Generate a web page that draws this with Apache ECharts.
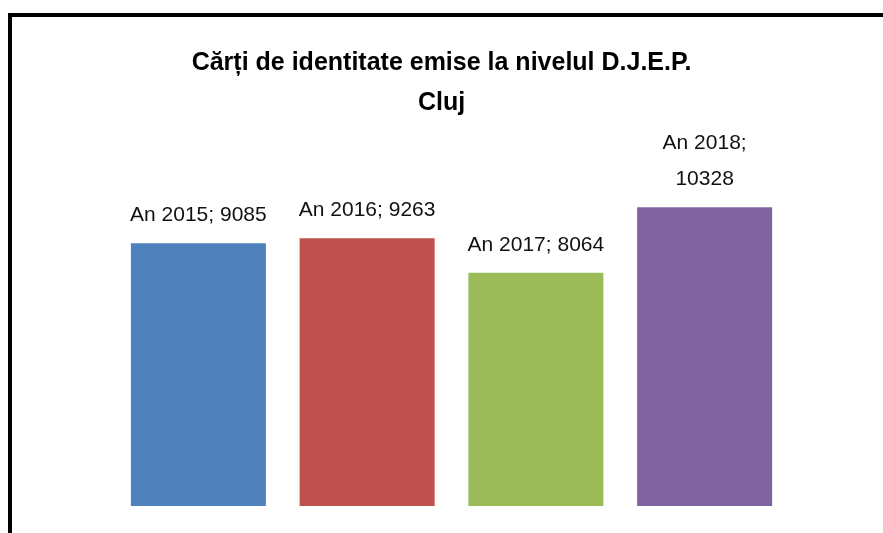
<!DOCTYPE html>
<html>
<head>
<meta charset="utf-8">
<script src="https://cdn.jsdelivr.net/npm/echarts@6/dist/echarts.min.js"></script>
<style>
	html, body { margin: 0; padding: 0; background: #fff; }
	#main { width: 883px; height: 533px; }
</style>
</head>
<body>
<div id="main"></div>
<script>
// date din grafic
var categories = ['An 2015', 'An 2016', 'An 2017', 'An 2018'];
var values = [9085, 9263, 8064, 10328];
var barColors = ['#4F81BD', '#C0504D', '#9BBB59', '#8064A2'];
var labelWrap = [false, false, false, true];

var myChart = echarts.init(document.getElementById('main'));

myChart.setOption({
	animation: false,
	title: {
		text: 'Cărți de identitate emise la nivelul D.J.E.P.\nCluj',
		left: 'center',
		top: 38,
		textStyle: {
			fontFamily: 'Liberation Sans',
			fontWeight: 'bold',
			fontSize: 25,
			lineHeight: 40,
			color: '#000'
		}
	},
	graphic: [{
		type: 'rect',
		shape: { x: 10, y: 15, width: 900, height: 600 },
		style: { fill: 'none', stroke: '#000', lineWidth: 4 }
	}],
	grid: {
		left: 114,
		right: 94,
		top: 159,
		bottom: 27
	},
	xAxis: {
		type: 'category',
		data: categories,
		show: false
	},
	yAxis: {
		type: 'value',
		min: 0,
		max: 12000,
		show: false
	},
	series: [{
		type: 'bar',
		barWidth: '80%',
		data: values.map(function (v, i) {
			return { value: v, itemStyle: { color: barColors[i] } };
		}),
		label: {
			show: true,
			position: 'top',
			distance: 10,
			fontFamily: 'Liberation Sans',
			fontSize: 21,
			lineHeight: 36,
			color: '#111',
			formatter: function (p) {
				return p.name + ';' + (labelWrap[p.dataIndex] ? '\n' : ' ') + p.value;
			}
		}
	}]
});
</script>
</body>
</html>
